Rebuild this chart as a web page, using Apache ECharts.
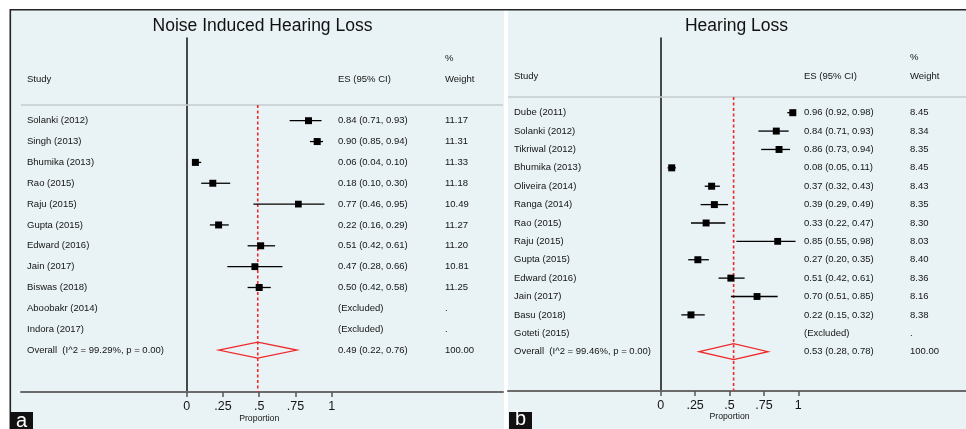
<!DOCTYPE html>
<html><head><meta charset="utf-8">
<script src="https://cdn.jsdelivr.net/npm/echarts@6/dist/echarts.min.js"></script>
<style>html,body{margin:0;padding:0;background:#fff}#c{width:966px;height:429px}</style>
</head><body><div id="c"></div>
<script>
// ---------- data ----------
const tickValues = [0, 0.25, 0.5, 0.75, 1];
const tickLabels = ['0', '.25', '.5', '.75', '1'];
const axisTitle = 'Proportion';
const headerStudy = 'Study';
const headerES = 'ES (95% CI)';
const headerPct = '%';
const headerWeight = 'Weight';

const titleA = 'Noise Induced Hearing Loss';
const studiesA = ['Solanki (2012)','Singh (2013)','Bhumika (2013)','Rao (2015)','Raju (2015)','Gupta (2015)','Edward (2016)','Jain (2017)','Biswas (2018)','Aboobakr (2014)','Indora (2017)'];
const esA = [0.84,0.90,0.06,0.18,0.77,0.22,0.51,0.47,0.50,null,null];
const loA = [0.71,0.85,0.04,0.10,0.46,0.16,0.42,0.28,0.42,null,null];
const hiA = [0.93,0.94,0.10,0.30,0.95,0.29,0.61,0.66,0.58,null,null];
const weightA = [11.17,11.31,11.33,11.18,10.49,11.27,11.20,10.81,11.25,null,null];
const overallLabelA = 'Overall  (I^2 = 99.29%, p = 0.00)';
const overallA = [0.49, 0.22, 0.76];
const overallWeightA = 100.00;

const titleB = 'Hearing Loss';
const studiesB = ['Dube (2011)','Solanki (2012)','Tikriwal (2012)','Bhumika (2013)','Oliveira (2014)','Ranga (2014)','Rao (2015)','Raju (2015)','Gupta (2015)','Edward (2016)','Jain (2017)','Basu (2018)','Goteti (2015)'];
const esB = [0.96,0.84,0.86,0.08,0.37,0.39,0.33,0.85,0.27,0.51,0.70,0.22,null];
const loB = [0.92,0.71,0.73,0.05,0.32,0.29,0.22,0.55,0.20,0.42,0.51,0.15,null];
const hiB = [0.98,0.93,0.94,0.11,0.43,0.49,0.47,0.98,0.35,0.61,0.85,0.32,null];
const weightB = [8.45,8.34,8.35,8.45,8.43,8.35,8.30,8.03,8.40,8.36,8.16,8.38,null];
const overallLabelB = 'Overall  (I^2 = 99.46%, p = 0.00)';
const overallB = [0.53, 0.28, 0.78];
const overallWeightB = 100.00;

const panelLetters = ['a', 'b'];

// ---------- layout (pixels) ----------
const FONT = 'Liberation Sans, Arial, sans-serif';
const TXT = '#151515';
const RED = '#f0282a';
const layoutA = {left:21, right:503, top:38, bottom:392, zero:186.7, one:331.7, row0:120.7, step:20.85, divider:105, colStudy:27, colES:338, colW:445, propOff:27, titleX:262.5};
const layoutB = {left:508, right:966, top:38, bottom:391, zero:660.7, one:798.3, row0:112.7, step:18.38, divider:97, colStudy:514, colES:804, colW:910, propOff:26, titleX:736.5};

function f2(v){ return v.toFixed(2); }
function esText(e,l,h){ return e == null ? '(Excluded)' : f2(e) + ' (' + f2(l) + ', ' + f2(h) + ')'; }

const grids = [], xAxes = [], yAxes = [], series = [];

function buildPanel(k, L, studies, es, lo, hi, w, ovLabel, ov, ovW) {
  const sc = L.one - L.zero;
  const xv = px => (px - L.zero) / sc;
  const yv = py => (py - L.row0) / L.step;
  const xMin = xv(L.left), xMax = xv(L.right);
  const yMin = yv(L.top), yMax = yv(L.bottom);
  const div = yv(L.divider);
  grids.push({left:L.left, top:L.top, width:L.right-L.left, height:L.bottom-L.top, containLabel:false, outerBoundsMode:'none'});
  xAxes.push({gridIndex:k, type:'value', min:xMin, max:xMax, position:'bottom',
    axisLine:{show:true, onZero:false, lineStyle:{color:'#6b6b6b', width:2}},
    axisTick:{show:true, customValues:tickValues, length:5, lineStyle:{color:'#555', width:1.5}},
    axisLabel:{show:true, customValues:tickValues, margin:8, fontSize:12.5, color:TXT, fontFamily:FONT,
      formatter: v => { const i = tickValues.findIndex(t => Math.abs(t - v) < 1e-9); return i >= 0 ? tickLabels[i] : ''; }},
    splitLine:{show:false}});
  yAxes.push({gridIndex:k, type:'value', inverse:true, min:yMin, max:yMax,
    axisLine:{show:true, onZero:true, lineStyle:{color:'#111', width:1.5}},
    axisTick:{show:false}, axisLabel:{show:false}, splitLine:{show:false}});

  // divider line
  series.push({type:'line', xAxisIndex:k, yAxisIndex:k, data:[[xMin, div],[xMax, div]], symbol:'none', silent:true,
    lineStyle:{color:'#c3cbce', width:1.5}, clip:false});
  // overall dashed line
  series.push({type:'line', xAxisIndex:k, yAxisIndex:k, data:[[ov[0], div],[ov[0], yMax]], symbol:'none', silent:true,
    lineStyle:{color:RED, width:1.6, type:[3,2.5]}, z:3});

  // CIs and boxes
  const wMax = Math.max(...w.filter(v => v != null));
  const ciData = [];
  studies.forEach((s, i) => { if (es[i] != null) ciData.push([es[i], lo[i], hi[i], i, w[i]]); });
  series.push({type:'custom', xAxisIndex:k, yAxisIndex:k, data:ciData, encode:{x:[0,1,2], y:3}, silent:true, z:4,
    renderItem: (p, api) => {
      const c = api.coord([api.value(0), api.value(3)]);
      const a = api.coord([api.value(1), api.value(3)]);
      const b = api.coord([api.value(2), api.value(3)]);
      const s = 7 * Math.sqrt(api.value(4) / wMax);
      return {type:'group', children:[
        {type:'line', shape:{x1:a[0], y1:a[1], x2:b[0], y2:b[1]}, style:{stroke:'#000', lineWidth:1.3}},
        {type:'rect', shape:{x:c[0]-s/2, y:c[1]-s/2, width:s, height:s}, style:{fill:'#000'}}
      ]};
    }});
  // overall diamond
  const ovRow = studies.length;
  const hh = 8 / L.step;
  series.push({type:'custom', xAxisIndex:k, yAxisIndex:k, data:[[ov[0], ov[1], ov[2], ovRow]], encode:{x:[0,1,2], y:3}, silent:true, z:4,
    renderItem: (p, api) => {
      const r = api.value(3);
      const pts = [api.coord([api.value(1), r]), api.coord([api.value(0), r - hh]), api.coord([api.value(2), r]), api.coord([api.value(0), r + hh])];
      return {type:'polygon', shape:{points:pts}, style:{fill:'none', stroke:RED, lineWidth:1.3}};
    }});

  // texts
  const texts = [];
  const cS = xv(L.colStudy), cE = xv(L.colES), cW = xv(L.colW);
  texts.push({x:cW, y:-3, t:headerPct});
  texts.push({x:cS, y:-2, t:headerStudy});
  texts.push({x:cE, y:-2, t:headerES});
  texts.push({x:cW, y:-2, t:headerWeight});
  studies.forEach((s, i) => {
    texts.push({x:cS, y:i, t:s});
    texts.push({x:cE, y:i, t:esText(es[i], lo[i], hi[i])});
    texts.push({x:cW, y:i, t: w[i] == null ? '.' : f2(w[i])});
  });
  texts.push({x:cS, y:ovRow, t:ovLabel});
  texts.push({x:cE, y:ovRow, t:esText(ov[0], ov[1], ov[2])});
  texts.push({x:cW, y:ovRow, t:f2(ovW)});
  texts.push({x:0.5, y:yMax, t:axisTitle, below:L.propOff, size:8.7, align:'center'});
  series.push({type:'custom', xAxisIndex:k, yAxisIndex:k, data:texts.map(o => [o.x, o.y]), encode:{x:0, y:1}, silent:true, z:5, clip:false,
    renderItem: (p, api) => {
      const o = texts[p.dataIndex];
      const c = api.coord([o.x, o.y]);
      let y = c[1];
      if (o.below) y = p.coordSys.y + p.coordSys.height + o.below;
      return {type:'text', x:c[0], y:y, style:{text:o.t, fill:TXT, fontSize:o.size || 9.5, fontFamily:FONT, align:o.align || 'left', verticalAlign:'middle'}};
    }});
}

buildPanel(0, layoutA, studiesA, esA, loA, hiA, weightA, overallLabelA, overallA, overallWeightA);
buildPanel(1, layoutB, studiesB, esB, loB, hiB, weightB, overallLabelB, overallB, overallWeightB);

const BG = '#e9f2f4';
const graphic = [
  {type:'rect', z:-10, shape:{x:11, y:10, width:493, height:419}, style:{fill:BG}},
  {type:'rect', z:-10, shape:{x:508, y:10, width:458, height:419}, style:{fill:BG}},
  {type:'rect', z:-5, shape:{x:10, y:9, width:956, height:1.6}, style:{fill:'#222'}},
  {type:'rect', z:-5, shape:{x:9.5, y:9, width:1.6, height:420}, style:{fill:'#222'}},
  {type:'text', z:10, x:layoutA.titleX, y:26, style:{text:titleA, fontSize:17.5, fontFamily:FONT, fill:'#111', align:'center', verticalAlign:'middle'}},
  {type:'text', z:10, x:layoutB.titleX, y:26, style:{text:titleB, fontSize:17.5, fontFamily:FONT, fill:'#111', align:'center', verticalAlign:'middle'}},
  {type:'rect', z:10, shape:{x:10, y:412, width:23, height:17}, style:{fill:'#111'}},
  {type:'rect', z:10, shape:{x:509, y:412, width:23, height:17}, style:{fill:'#111'}},
  {type:'text', z:11, x:21.5, y:421, style:{text:panelLetters[0], fontSize:20, fontFamily:FONT, fill:'#fff', align:'center', verticalAlign:'middle'}},
  {type:'text', z:11, x:520.5, y:419, style:{text:panelLetters[1], fontSize:20, fontFamily:FONT, fill:'#fff', align:'center', verticalAlign:'middle'}}
];

const chart = echarts.init(document.getElementById('c'), null, {renderer:'canvas'});
chart.setOption({backgroundColor:'#fff', animation:false, grid:grids, xAxis:xAxes, yAxis:yAxes, series:series, graphic:graphic});
</script></body></html>
